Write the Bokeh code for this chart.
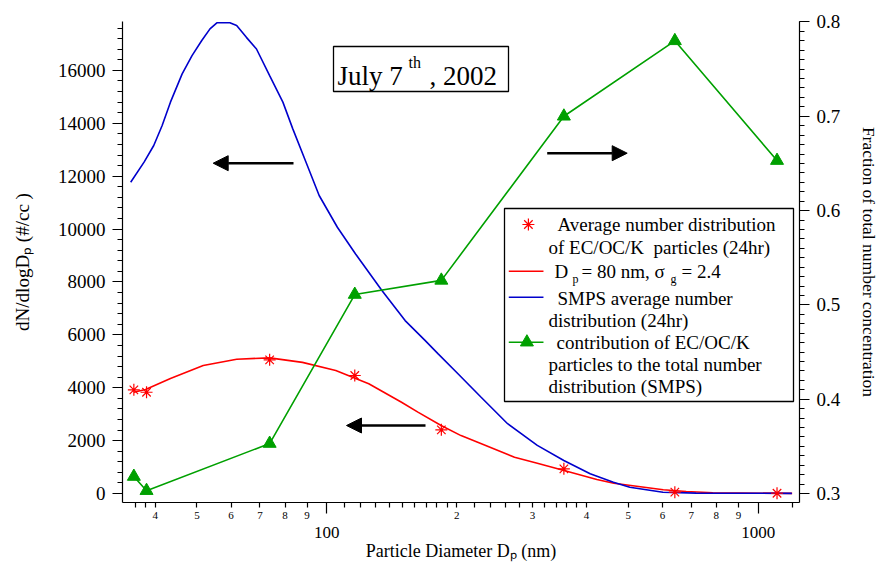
import math
from bokeh.plotting import figure
from bokeh.models import (Range1d, LinearAxis, LogAxis, FixedTicker, SingleIntervalTicker, Label,
                          BoxAnnotation, Arrow, NormalHead, LinearScale)
from bokeh.embed import file_html
from bokeh.resources import INLINE

# ---------------- data ----------------
# SMPS average number distribution (24hr), left axis
smps_d = [35.1, 37.7, 39.7, 41.5, 43.4, 46.2, 48.7, 51.3, 53.6, 55.6, 59.6, 61.8, 65.1, 68.7,
          73.7, 79.1, 83.4, 89.5, 96.0, 105.8, 116.6, 134.2, 151.9, 168.9, 181.2, 201.4,
          227.9, 262.5, 307.6, 354.4, 407.9, 461.8, 504.1, 601.6, 717.7, 1197]
smps_n = [11770, 12530, 13160, 13910, 14800, 15870, 16560, 17130, 17570, 17800, 17800, 17700,
          17250, 16810, 15800, 14800, 13790, 12530, 11270, 10070, 9060, 7680, 6540, 5790, 5280,
          4530, 3640, 2640, 1820, 1250, 745, 427, 238, 49, 15, 5]

# lognormal fit  Dp = 80 nm, sigma_g = 2.4, left axis
fit_d = [35.7, 38.0, 43.4, 51.7, 61.8, 73.7, 87.8, 104.9, 125.1, 149.0, 163.0, 184.1, 204.7,
         227.5, 272.4, 307.6, 354.9, 422.7, 462.7, 602.6, 681.0, 785.0, 1199]
fit_n = [3830, 3930, 4350, 4840, 5080, 5130, 4960, 4650, 4150, 3450, 3070, 2570, 2190,
         1890, 1370, 1146, 870, 529, 389, 140, 76, 26, 5]

# EC/OC/K particle sizes, number distribution (left) and fraction (right)
ecoc_d = [35.7, 38.2, 73.7, 116.1, 184.3, 354.5, 641.0, 1106]
ecoc_n = [3920, 3830, 5055, 4462, 2408, 934, 50, 10]
ecoc_frac = [0.318, 0.303, 0.353, 0.511, 0.526, 0.700, 0.780, 0.653]

# x axis ticks
x_major = [100, 1000]
x_major_labels = ["100", "1000"]
x_digit_ticks = [40, 50, 60, 70, 80, 90, 200, 300, 400, 500, 600, 700, 800, 900]
x_digit_labels = ["4", "5", "6", "7", "8", "9", "2", "3", "4", "5", "6", "7", "8", "9"]
x_minor = [36, 38, 40, 50, 60, 70, 80, 90, 110, 120, 130, 140, 150, 160, 170, 180, 190,
           200, 220, 240, 260, 280, 300, 320, 340, 360, 380, 400, 500, 600, 700, 800, 900, 1200]

# ---------------- figure ----------------
FONT = "Liberation Serif"
W, H = 882, 564
ML, MR, MT, MB = 122, 77, 21, 62
FW, FH = W - ML - MR, H - MT - MB

RED = "#ff0000"
BLUE = "#0000cc"
GREEN = "#00a000"
NBSP = "\u00a0"

p = figure(width=W, height=H, x_axis_type="log",
           x_range=Range1d(33.6, 1247), y_range=Range1d(-340, 17850),
           output_backend="svg", toolbar_location=None,
           min_border_left=ML, min_border_right=MR, min_border_top=MT, min_border_bottom=MB)
p.outline_line_color = None
p.grid.visible = False
p.background_fill_color = "white"
p.border_fill_color = "white"

p.extra_y_ranges = {"frac": Range1d(0.29047, 0.8005), "px": Range1d(0, FH)}
p.extra_x_ranges = {"px": Range1d(0, FW)}
p.extra_x_scales = {"px": LinearScale()}


def style_axis(ax, size, standoff):
    ax.major_label_text_font = FONT
    ax.major_label_text_font_size = size
    ax.major_label_text_color = "black"
    ax.major_label_standoff = standoff
    ax.axis_label_text_font = FONT
    ax.axis_label_text_font_style = "normal"
    ax.axis_label_text_color = "black"
    ax.axis_line_color = "black"
    ax.major_tick_line_color = "black"
    ax.minor_tick_line_color = "black"
    ax.axis_line_width = 1.2
    ax.major_tick_line_width = 1.2
    ax.minor_tick_line_width = 1.2
    ax.major_tick_in = 0
    ax.minor_tick_in = 0


def bare_axis(ax):
    ax.axis_line_color = None
    ax.major_tick_line_color = None
    ax.minor_tick_line_color = None
    ax.major_tick_out = 0
    ax.minor_tick_out = 0


# bottom axis A: tick marks only
xa = p.xaxis[0]
style_axis(xa, "1px", 0)
xa.ticker = FixedTicker(ticks=x_major, minor_ticks=x_minor)
xa.major_label_overrides = {t: "" for t in x_major}
xa.major_tick_out = 11
xa.minor_tick_out = 5

# bottom axis B: small digit labels
xb = LogAxis(ticker=FixedTicker(ticks=x_digit_ticks, minor_ticks=[]))
style_axis(xb, "11px", -2)
bare_axis(xb)
xb.major_label_overrides = dict(zip(x_digit_ticks, x_digit_labels))
p.add_layout(xb, "below")

# bottom axis C: decade labels + title
xc = LogAxis(ticker=FixedTicker(ticks=x_major, minor_ticks=[]))
style_axis(xc, "17px", 5)
bare_axis(xc)
xc.major_label_overrides = dict(zip(x_major, x_major_labels))
xc.axis_label = "Particle Diameter D\u209a (nm)"
xc.axis_label_text_font_size = "18px"
xc.axis_label_standoff = 0
p.add_layout(xc, "below")

# left axis
ya = p.yaxis[0]
style_axis(ya, "19px", 7)
ya.ticker = SingleIntervalTicker(interval=2000, num_minor_ticks=5)
ya.major_tick_out = 10
ya.minor_tick_out = 5
ya.axis_label = "dN/dlogD\u209a (#/cc )"
ya.axis_label_text_font_size = "19px"
ya.axis_label_standoff = 22

# right axis
ra = LinearAxis(y_range_name="frac", ticker=SingleIntervalTicker(interval=0.1, num_minor_ticks=10))
style_axis(ra, "19px", 7)
ra.major_tick_out = 10
ra.minor_tick_out = 5
ra.axis_label = "Fraction of total number concentration"
ra.axis_label_text_font_size = "17.5px"
ra.axis_label_standoff = 16
p.add_layout(ra, "right")

# ---------------- data marks ----------------
p.line(fit_d, fit_n, line_color=RED, line_width=1.6)
p.line(smps_d, smps_n, line_color=BLUE, line_width=1.6)
p.scatter(ecoc_d, ecoc_n, marker="asterisk", size=12, line_color=RED, line_width=1.2)
p.line(ecoc_d, ecoc_frac, y_range_name="frac", line_color=GREEN, line_width=1.6)
p.scatter(ecoc_d, ecoc_frac, y_range_name="frac", marker="triangle", size=13,
          fill_color=GREEN, line_color=GREEN)


def lab(text, x, y, size):
    # y is the wanted baseline; the renderer centres text on the anchor, so lift it
    p.add_layout(Label(x=x, y=y + 0.34 * size, x_units="screen", y_units="screen", text=text,
                       text_font=FONT, text_font_size=f"{size}px", text_color="black",
                       text_align="left", text_baseline="alphabetic"))


# ---------------- date box ----------------
p.add_layout(BoxAnnotation(left=211, right=386, top=456, bottom=411,
                           left_units="screen", right_units="screen",
                           top_units="screen", bottom_units="screen",
                           fill_color="white", fill_alpha=1.0,
                           line_color="black", line_width=1.3, line_alpha=1.0))
lab("July 7", 215, 417, 27)
lab("th", 286, 435, 16)
lab(", 2002", 307, 417, 27)

# ---------------- arrows ----------------
for xs, xe, yy in [(171, 90.7, 339.3), (303, 224, 77), (424.7, 504.7, 349.3)]:
    p.add_layout(Arrow(end=NormalHead(size=15, fill_color="black", line_color="black"),
                       x_start=xs, y_start=yy, x_end=xe, y_end=yy,
                       start_units="screen", end_units="screen",
                       line_color="black", line_width=2.5))

# ---------------- legend ----------------
p.add_layout(BoxAnnotation(left=382, right=671, top=294, bottom=101,
                           left_units="screen", right_units="screen",
                           top_units="screen", bottom_units="screen",
                           fill_color="white", fill_alpha=1.0,
                           line_color="black", line_width=1.3, line_alpha=1.0))
kw = dict(x_range_name="px", y_range_name="px", level="overlay")
p.scatter([409.5], [278], marker="asterisk", size=12, line_color=RED, line_width=1.2, **kw)
p.segment(x0=[389.7, 389.7, 389.7], x1=[424.7, 424.7, 424.7],
          y0=[231.3, 205.3, 160.3], y1=[231.3, 205.3, 160.3],
          line_color=[RED, BLUE, GREEN], line_width=1.6, **kw)
p.scatter([408], [160.3], marker="triangle", size=13, fill_color=GREEN, line_color=GREEN, **kw)

lab("Average number distribution", 435, 272, 19)
lab("of EC/OC/K" + NBSP + " particles (24hr)", 426, 249, 19)
lab("D", 432, 224.7, 19)
lab("p", 450, 219, 12)
lab("= 80 nm, \u03c3", 459, 224.7, 19)
lab("g", 548, 219, 12)
lab("= 2.4", 559, 224.7, 19)
lab("SMPS average number", 435, 198, 19)
lab("distribution (24hr)", 426, 176, 19)
lab("contribution of EC/OC/K", 434, 153.7, 19)
lab("particles to the total number", 426, 131.3, 19)
lab("distribution (SMPS)", 426, 109.3, 19)

open("out.html", "w").write(file_html(p, INLINE))
